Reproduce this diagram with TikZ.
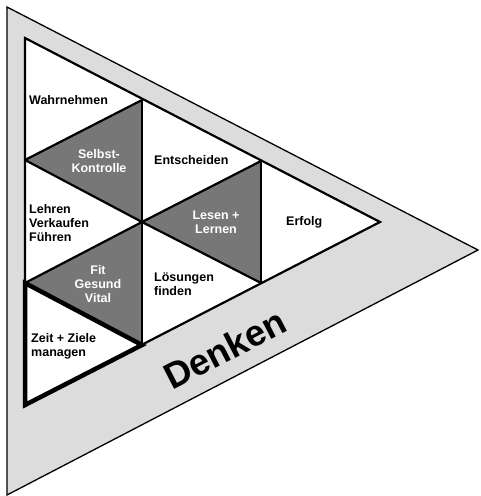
\documentclass[tikz,border=0pt]{standalone}
\usepackage{fontspec}
\setmainfont{Liberation Sans}
\usepackage{tikz}
\usetikzlibrary{positioning}

\definecolor{bandgray}{HTML}{DCDCDC}
\definecolor{cellgray}{HTML}{777777}

\begin{document}
\begin{tikzpicture}[x=1pt,y=-1pt,
    celltext/.style={font=\bfseries\fontsize{12.5}{14}\selectfont, align=left, anchor=west, inner sep=0pt},
    darktext/.style={font=\bfseries\fontsize{12.5}{14}\selectfont, align=center, text=white, inner sep=0pt},
    grid/.style={line width=2.2pt, line join=miter}]
    \useasboundingbox (0,0) rectangle (480,496);

    % Draw outer band
    \filldraw[fill=bandgray, line width=1.3pt] (7,7) -- (478,250) -- (7,495) -- cycle;

    % Corner points of the cells
    \foreach \n/\x/\y in {a/25/38, b/25/160, c/25/283, d/25/405, e/142/100, f/142/222, g/142/345, h/261/161, i/261/283, j/380/222} {
      \coordinate (\n) at (\x,\y);
    }

    % Fill white and dark cells
    \fill[white] (a) -- (j) -- (d) -- cycle;
    \foreach \p/\q/\r in {e/b/f, f/c/g, h/f/i} {
      \fill[cellgray] (\p) -- (\q) -- (\r) -- cycle;
    }

    % Draw cell borders
    \draw[grid] (a) -- (j) -- (d) -- cycle;
    \draw[grid] (b) -- (f) -- (i);
    \draw[grid] (c) -- (g);
    \draw[grid] (e) -- (b);
    \draw[grid] (h) -- (f) -- (c);
    \draw[grid] (e) -- (g);
    \draw[grid] (h) -- (i);
    \draw[line width=4.5pt, line join=miter] (c) -- (g) -- (d) -- cycle;

    % Cell labels
    \node[celltext] (wahr) at (29,100) {Wahrnehmen};
    \node[darktext] (selbst) at (99,161) {Selbst-\\Kontrolle};
    \node[celltext] (entscheiden) at (154,160) {Entscheiden};
    \node[celltext] (lehren) at (29,223) {Lehren\\Verkaufen\\Führen};
    \node[darktext] (lesen) at (216,222) {Lesen +\\Lernen};
    \node[celltext] (erfolg) at (286,222) {Erfolg};
    \node[darktext] (fit) at (98,284) {Fit\\Gesund\\Vital};
    \node[celltext] (loesungen) at (154,284) {Lösungen\\finden};
    \node[celltext] (zeit) at (31,346) {Zeit + Ziele\\managen};

    % Band label
    \node[rotate=27.3, font=\bfseries\fontsize{36.5}{40}\selectfont] (denken) at (225,349) {Denken};
\end{tikzpicture}
\end{document}
